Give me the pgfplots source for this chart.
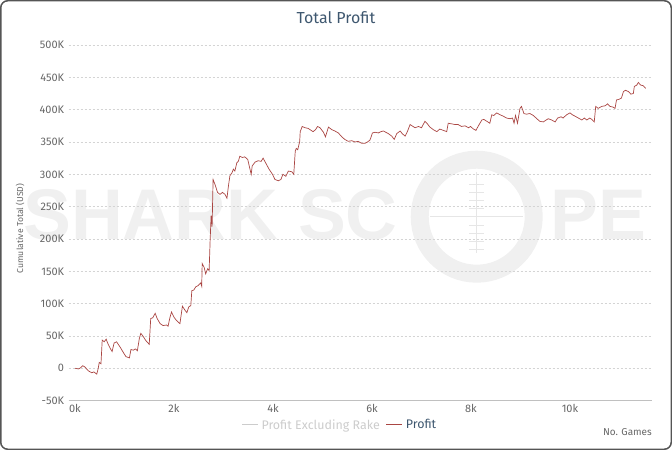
\documentclass[border=0pt]{standalone}
\usepackage{pgfplots}
\pgfplotsset{compat=1.18}
\usepackage{fontspec}
\setmainfont{Fira Sans}
\newfontfamily\wmfont{Liberation Sans}
\definecolor{lineRed}{HTML}{AA4643}
\definecolor{titleCol}{HTML}{3E576F}
\definecolor{tickCol}{HTML}{666666}
\definecolor{gridCol}{HTML}{D4D4D4}
\definecolor{axisCol}{HTML}{C0C0C0}
\definecolor{legGray}{HTML}{CCCCCC}
\definecolor{wmCol}{HTML}{F0F0F0}
\definecolor{wmLine}{HTML}{E6E6E6}
\definecolor{frameCol}{HTML}{555555}
\begin{document}
\begin{tikzpicture}
\useasboundingbox (0,0) rectangle (672bp,450bp);
% watermark
\node[anchor=base west, inner sep=0pt, text=wmCol, font=\wmfont\bfseries\fontsize{72}{72}\selectfont] at (23bp,210bp) {SHARK SC};
\node[anchor=base west, inner sep=0pt, text=wmCol, font=\wmfont\bfseries\fontsize{72}{72}\selectfont] at (550bp,210bp) {PE};
\draw[line width=18bp, wmCol] (476.7bp,233.3bp) circle (57bp);
\draw[line width=0.8bp, wmLine] (430bp,233.3bp) -- (523bp,233.3bp);
\draw[line width=0.8bp, wmLine] (476.7bp,197bp) -- (476.7bp,278bp);
\foreach \yy in {242,250,258,266,225,217,209,201}{
  \draw[line width=0.6bp, wmLine] (469bp,\yy bp) -- (484bp,\yy bp);
}
\begin{axis}[
  at={(68.6bp,49.4bp)}, anchor=south west,
  scale only axis, width=583.4bp, height=355.6bp,
  xmin=-0.129, xmax=11.657, ymin=-50, ymax=500,
  axis lines*=left,
  x axis line style={draw=axisCol, line width=0.8bp},
  y axis line style={draw=none},
  major tick length=0pt,
  tick style={draw=none},
  xtick={0,2,4,6,8,10},
  xticklabels={0k,2k,4k,6k,8k,10k},
  ytick={-50,0,50,100,150,200,250,300,350,400,450,500},
  yticklabels={-50K,0,50K,100K,150K,200K,250K,300K,350K,400K,450K,500K},
  ymajorgrids,
  grid style={draw=gridCol, line width=0.6bp, dash pattern=on 2bp off 2bp},
  ticklabel style={font=\fontsize{11}{12}\selectfont, text=tickCol},
  xticklabel style={yshift=0bp},
  yticklabel style={xshift=-1bp},
  clip=false,
  legend columns=2,
  legend style={at={(0.465,-0.0686)}, anchor=center, draw=none, fill=none,
    font=\fontsize{12.5}{14}\selectfont, column sep=4bp,
    /tikz/every odd column/.append style={column sep=1bp}},
  legend image code/.code={\draw[#1, line width=1bp] (0bp,0bp) -- (16bp,0bp);},
]
\addlegendimage{draw=legGray}
\addlegendentry{\textcolor{legGray}{Profit Excluding Rake}}
\addplot[draw=lineRed, line width=0.7bp, mark=none] coordinates {
(0,0) (0.067,-1) (0.10,0) (0.156,4) (0.20,2) (0.27,-4) (0.34,-7) (0.38,-5.6) (0.44,-9) (0.47,0) (0.49,9) (0.525,7) (0.55,43.5) (0.59,41) (0.63,45) (0.66,39) (0.71,31) (0.75,26) (0.79,39) (0.84,41) (0.91,33) (0.98,24) (1.03,18) (1.10,16) (1.13,29) (1.18,28) (1.22,30) (1.26,27) (1.30,46) (1.33,54) (1.38,49) (1.43,43) (1.50,37) (1.53,77) (1.57,78) (1.62,85) (1.66,77) (1.72,69) (1.78,66) (1.85,67) (1.88,65) (1.92,79) (1.95,87) (2.00,79) (2.05,74) (2.12,69) (2.17,96) (2.22,90) (2.26,86) (2.30,95) (2.34,97) (2.36,120) (2.40,121) (2.44,126) (2.49,128) (2.54,132) (2.56,127) (2.57,162) (2.61,156) (2.64,146) (2.68,154) (2.71,151) (2.73,197) (2.75,236) (2.77,219) (2.79,292) (2.83,284) (2.88,272) (2.93,269) (2.98,272) (3.03,269) (3.07,263) (3.10,282) (3.13,298) (3.17,302) (3.20,308) (3.23,305) (3.27,318) (3.30,320) (3.33,328) (3.38,326) (3.43,327) (3.49,323) (3.52,313) (3.56,300) (3.58,313) (3.64,319) (3.70,321) (3.76,320) (3.80,325) (3.85,318) (3.92,308) (3.99,300) (4.04,292) (4.11,290) (4.16,292) (4.20,300) (4.26,297) (4.31,305) (4.38,304) (4.42,300) (4.45,336) (4.47,340) (4.50,338) (4.54,351) (4.55,366) (4.59,374) (4.65,372) (4.71,371) (4.77,368) (4.81,366) (4.86,369) (4.90,374) (4.95,372) (5.02,365) (5.06,358) (5.12,373) (5.19,369) (5.25,367) (5.32,364) (5.39,358) (5.45,354) (5.52,351) (5.59,352) (5.66,350) (5.72,351) (5.79,348) (5.86,348) (5.91,350) (5.96,353) (6.01,364) (6.06,365) (6.13,364) (6.18,366) (6.23,367) (6.28,365) (6.33,363) (6.40,359) (6.45,354) (6.50,363) (6.57,367) (6.61,363) (6.67,359) (6.72,367) (6.77,377) (6.81,375) (6.87,372) (6.94,374) (7.00,372) (7.07,382) (7.12,378) (7.17,373) (7.24,369) (7.31,366) (7.37,370) (7.44,368) (7.51,366) (7.54,379) (7.61,378) (7.68,377) (7.74,377) (7.81,374) (7.88,375) (7.95,372) (7.99,374) (8.05,370) (8.10,368) (8.15,375) (8.22,384) (8.26,385) (8.32,382) (8.38,379) (8.42,392) (8.46,391) (8.52,395) (8.59,392) (8.65,390) (8.72,387) (8.79,386) (8.84,387) (8.87,379) (8.90,391) (8.94,379) (8.99,402) (9.02,405) (9.07,394) (9.12,393) (9.19,394) (9.26,391) (9.33,386) (9.39,382) (9.46,381) (9.52,384) (9.56,386) (9.63,384) (9.70,381) (9.75,387) (9.82,389) (9.86,387) (9.93,392) (10.00,395) (10.05,392) (10.10,390) (10.17,387) (10.24,384) (10.29,387) (10.34,384) (10.40,387) (10.44,385) (10.49,381) (10.52,405) (10.57,402) (10.64,405) (10.71,406) (10.76,409) (10.81,405) (10.87,404) (10.91,402) (10.94,415) (10.99,416) (11.04,418) (11.08,428) (11.12,430) (11.18,428) (11.23,424) (11.28,425) (11.30,436) (11.35,438) (11.38,442) (11.43,438) (11.48,437) (11.53,433)
};
\addlegendentry{\textcolor{titleCol}{Profit}}
\end{axis}
% title and labels
\node[text=titleCol, font=\fontsize{16}{18}\selectfont] at (336bp,432bp) {Total Profit};
\node[rotate=90, text=tickCol, font=\fontsize{8.7}{10}\selectfont] at (20bp,221.5bp) {Cumulative Total (USD)};
\node[anchor=east, text=tickCol, font=\fontsize{10}{11}\selectfont, inner sep=0pt] at (652bp,18bp) {No. Games};
% frame
\draw[line width=1.5bp, frameCol, rounded corners=7bp] (0.75bp,0.75bp) rectangle (671.25bp,449.25bp);
\end{tikzpicture}
\end{document}
